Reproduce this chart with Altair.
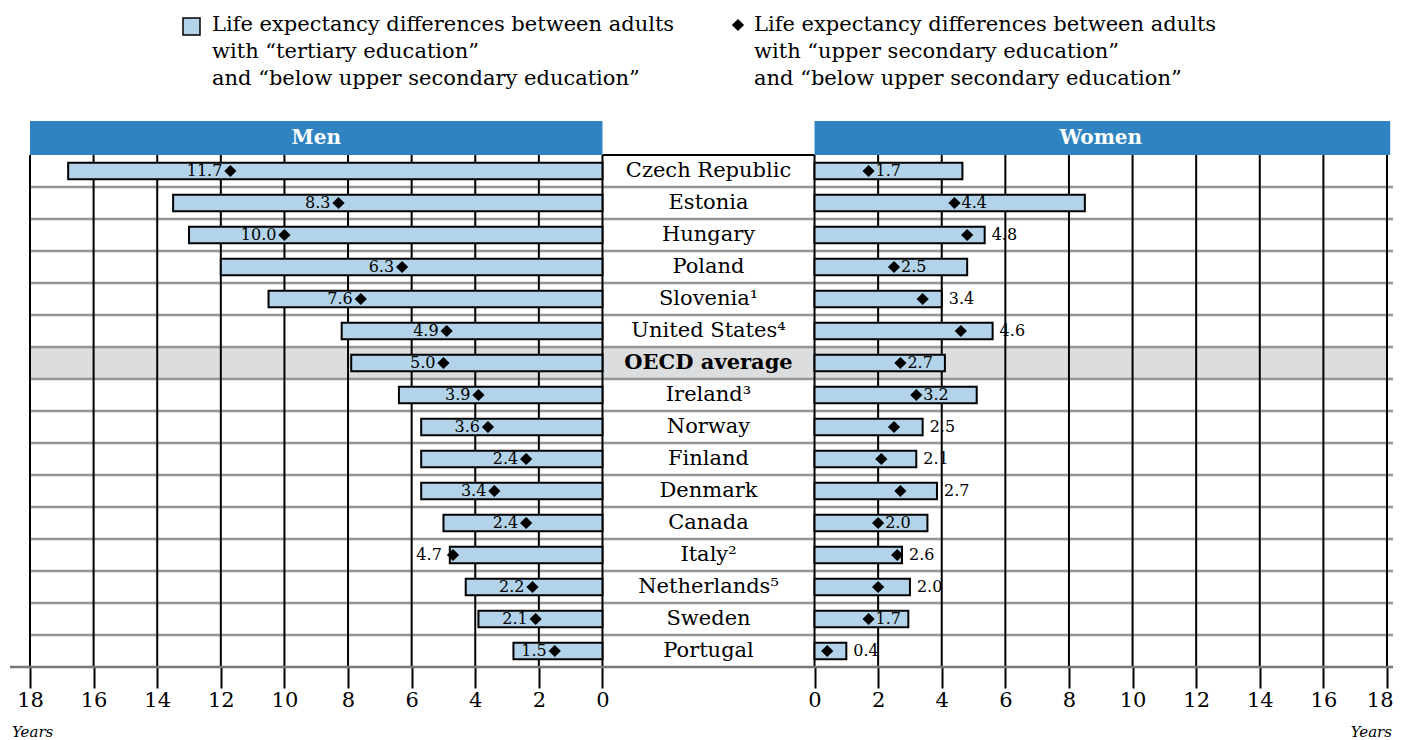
import altair as alt
import numpy as np
import pandas as pd

# ---------------- data ----------------
countries = ["Czech Republic", "Estonia", "Hungary", "Poland", "Slovenia¹", "United States⁴",
             "OECD average", "Ireland³", "Norway", "Finland", "Denmark", "Canada", "Italy²",
             "Netherlands⁵", "Sweden", "Portugal"]
men_tertiary = [16.8, 13.5, 13.0, 12.0, 10.5, 8.2, 7.9, 6.4, 5.7, 5.7, 5.7, 5.0, 4.8, 4.3, 3.9, 2.8]
men_upper = [11.7, 8.3, 10.0, 6.3, 7.6, 4.9, 5.0, 3.9, 3.6, 2.4, 3.4, 2.4, 4.7, 2.2, 2.1, 1.5]
women_tertiary = [4.65, 8.5, 5.35, 4.8, 4.0, 5.6, 4.1, 5.1, 3.4, 3.2, 3.85, 3.55, 2.75, 3.0, 2.95, 1.0]
women_upper = [1.7, 4.4, 4.8, 2.5, 3.4, 4.6, 2.7, 3.2, 2.5, 2.1, 2.7, 2.0, 2.6, 2.0, 1.7, 0.4]
tick_values = [0, 2, 4, 6, 8, 10, 12, 14, 16, 18]
panel_titles = ["Men", "Women"]
legend_bar_text = ("Life expectancy differences between adults\nwith “tertiary education”\n"
                   "and “below upper secondary education”")
legend_diamond_text = ("Life expectancy differences between adults\nwith “upper secondary education”\n"
                       "and “below upper secondary education”")
axis_unit = "Years"
highlight = "OECD average"

# ---------------- layout helpers ----------------
GAP = 6.667            # width of the central label column, in axis units
XMIN, XMAX = -18, GAP + 18
YMIN, YMAX = -1.0625, 16
FONT = "DejaVu Serif"
BLUE = "#3083C1"
BAR = "#B2D3EA"
SEP = "#959595"

n = len(countries)
df = pd.DataFrame({"country": countries, "mt": men_tertiary, "mu": men_upper,
                   "wt": women_tertiary, "wu": women_upper})
df["row"] = np.arange(n)
df["y0"] = df.row + 0.24
df["y1"] = df.row + 0.76
df["yc"] = df.row + 0.5
df["zero"] = 0.0
df["gap"] = GAP
df["men_x"] = -df.mt
df["men_d"] = -df.mu
df["women_x2"] = GAP + df.wt
df["women_d"] = GAP + df.wu
df["men_lab_x"] = -np.where(df.mt - df.mu >= 1.2, df.mu, df.mt)
df["women_lab_x"] = GAP + np.where(df.wt - df.wu >= 1.2, df.wu, df.wt)
df["men_lab"] = [f"{v:.1f}" for v in men_upper]
df["women_lab"] = [f"{v:.1f}" for v in women_upper]
df["cx"] = GAP / 2

xs = alt.Scale(domain=[XMIN, XMAX], nice=False, zero=False)
ys = alt.Scale(domain=[YMIN, YMAX], reverse=True, nice=False, zero=False)

grid_vals = [-t for t in tick_values] + [GAP + t for t in tick_values]
label_expr = (f"datum.value <= 0.001 ? format(abs(datum.value), 'd') : "
              f"format(round(datum.value - {GAP}), 'd')")
last_test = f"datum.value > {XMAX - 0.01}"
XAXIS = alt.Axis(values=grid_vals, labelExpr=label_expr, tickSize=21, tickWidth=2,
                 tickColor="black", domain=False, grid=False, labelFont=FONT,
                 labelFontSize=21, labelColor="black", labelPadding=1, title=None,
                 labelFlush=False, labelOverlap=False,
                 labelAlign={"condition": {"test": last_test, "value": "right"}, "value": "center"},
                 labelOffset={"condition": {"test": last_test, "value": 6}, "value": 0})


def X(f):
    return alt.X(f + ":Q", scale=xs, axis=XAXIS)


def Y(f):
    return alt.Y(f + ":Q", scale=ys, axis=None)


# OECD band
band_df = pd.DataFrame({"x": [XMIN], "x2": [XMAX],
                        "y": [countries.index(highlight)], "y2": [countries.index(highlight) + 1]})
band = alt.Chart(band_df).mark_rect(color="#DCDDDF").encode(
    x=X("x"), x2="x2", y=Y("y"), y2="y2")

# row separators
sep_df = pd.DataFrame({"y": list(range(1, n)), "x": XMIN, "x2": XMAX + 0.4})
seps = alt.Chart(sep_df).mark_rule(color=SEP, strokeWidth=2.5).encode(
    x=X("x"), x2="x2", y=Y("y"))

top_df = pd.DataFrame({"y": [0], "x": [0.0], "x2": [GAP]})
topline = alt.Chart(top_df).mark_rule(color="black", strokeWidth=2).encode(
    x=X("x"), x2="x2", y=Y("y"))

# vertical gridlines
grid_df = pd.DataFrame({"x": grid_vals, "y": 0, "y2": n})
grid = alt.Chart(grid_df).mark_rule(color="black", strokeWidth=2).encode(
    x=X("x"), y=Y("y"), y2="y2")

# headers
head_df = pd.DataFrame({"title": panel_titles, "x": [XMIN, GAP], "x2": [0, XMAX + 0.1],
                        "cx": [XMIN / 2, GAP + 9], "y": YMIN, "y2": 0.0, "cy": YMIN / 2})
heads = alt.Chart(head_df).mark_rect(color=BLUE).encode(x=X("x"), x2="x2", y=Y("y"), y2="y2")
head_txt = alt.Chart(head_df).mark_text(color="white", font=FONT, fontSize=20, fontWeight="bold",
                                        baseline="middle").encode(
    x=X("cx"), y=Y("cy"), text="title:N")

base = alt.Chart(df)
men_bars = base.mark_rect(fill=BAR, stroke="black", strokeWidth=2).encode(
    x=X("men_x"), x2="zero", y=Y("y0"), y2="y1")
women_bars = base.mark_rect(fill=BAR, stroke="black", strokeWidth=2).encode(
    x=X("gap"), x2="women_x2", y=Y("y0"), y2="y1")
men_pts = base.mark_point(shape="diamond", filled=True, color="black", size=150, opacity=1).encode(
    x=X("men_d"), y=Y("yc"))
women_pts = base.mark_point(shape="diamond", filled=True, color="black", size=150, opacity=1).encode(
    x=X("women_d"), y=Y("yc"))
men_lab = base.mark_text(align="right", baseline="middle", dx=-8, font=FONT, fontSize=16,
                         color="black").encode(x=X("men_lab_x"), y=Y("yc"), text="men_lab:N")
women_lab = base.mark_text(align="left", baseline="middle", dx=7, font=FONT, fontSize=16,
                           color="black").encode(x=X("women_lab_x"), y=Y("yc"), text="women_lab:N")
c_norm = base.transform_filter(alt.datum.country != highlight).mark_text(
    align="center", baseline="middle", font=FONT, fontSize=21, color="black").encode(
    x=X("cx"), y=Y("yc"), text="country:N")
c_bold = base.transform_filter(alt.datum.country == highlight).mark_text(
    align="center", baseline="middle", font=FONT, fontSize=21, fontWeight="bold",
    color="black").encode(x=X("cx"), y=Y("yc"), text="country:N")

bottom_df = pd.DataFrame({"y": [n], "x": [XMIN - 0.63], "x2": [XMAX + 0.4]})
bottom = alt.Chart(bottom_df).mark_rule(color="#777777", strokeWidth=2.5).encode(
    x=X("x"), x2="x2", y=Y("y"))

# legend
leg_df = pd.DataFrame({"t1": [legend_bar_text], "t2": [legend_diamond_text], "u": [axis_unit]})
leg = alt.Chart(leg_df)
leg_sq = leg.mark_square(size=289, fill=BAR, stroke="black", strokeWidth=1.5, opacity=1).encode(
    x=alt.value(161.5), y=alt.value(-94.5))
leg_t1 = leg.mark_text(align="left", baseline="top", lineBreak="\n", lineHeight=27, font=FONT,
                       fontSize=21, color="black").encode(
    x=alt.value(182), y=alt.value(-107), text="t1:N")
leg_dm = leg.mark_point(shape="diamond", filled=True, color="black", size=150, opacity=1).encode(
    x=alt.value(708), y=alt.value(-96))
leg_t2 = leg.mark_text(align="left", baseline="top", lineBreak="\n", lineHeight=27, font=FONT,
                       fontSize=21, color="black").encode(
    x=alt.value(724), y=alt.value(-107), text="t2:N")
yrs_l = leg.mark_text(align="left", baseline="middle", font=FONT, fontSize=15, fontStyle="italic",
                      color="black").encode(x=alt.value(-18), y=alt.value(611), text="u:N")
yrs_r = leg.mark_text(align="right", baseline="middle", font=FONT, fontSize=15, fontStyle="italic",
                      color="black").encode(x=alt.value(1362), y=alt.value(611), text="u:N")

chart = alt.layer(
    band, seps, topline, grid, heads, head_txt, men_bars, women_bars, men_pts, women_pts,
    men_lab, women_lab, c_norm, c_bold, bottom, leg_sq, leg_t1, leg_dm, leg_t2, yrs_l, yrs_r
).properties(
    width=1357, height=546, autosize="none",
    padding={"left": 22, "top": 113, "right": 6, "bottom": 75}
).configure_view(stroke=None)

chart.save("out.html", embed_options={"renderer": "svg", "actions": False})
